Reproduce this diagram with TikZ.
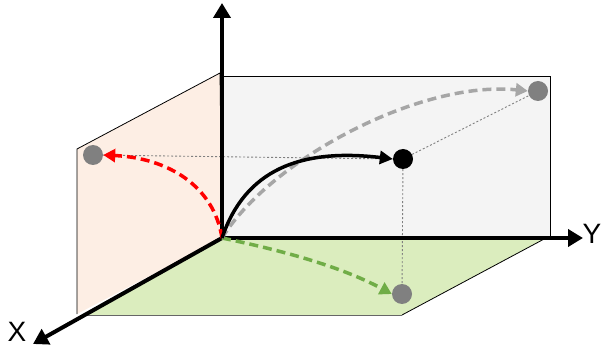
\documentclass[tikz,border=0pt]{standalone}
\usepackage{fontspec}
\setmainfont{Liberation Sans}
\usetikzlibrary{arrows.meta}
\definecolor{backfill}{HTML}{F4F4F4}
\definecolor{sidefill}{HTML}{FDEEE4}
\definecolor{floorfill}{HTML}{DBEDBE}
\definecolor{dotgray}{HTML}{808080}
\definecolor{dashgray}{HTML}{A6A6A6}
\definecolor{dashgreen}{HTML}{70AD47}
\definecolor{dashred}{HTML}{FF0000}
\tikzset{
  axisline/.style={line width=4pt,-{Triangle[length=15pt,width=17pt]}},
  guideline/.style={dotgray,line width=0.9pt,dash pattern=on 2pt off 2pt},
  pathdash/.style={line width=3.5pt,dash pattern=on 9pt off 5pt,-{Triangle[length=12pt,width=13pt]}},
  dotnode/.style={circle,fill=dotgray,inner sep=0pt,minimum size=20pt},
  planeedge/.style={line width=0.8pt},
  axislabel/.style={font=\fontsize{28}{30}\selectfont,inner sep=0pt}
}
\begin{document}
\begin{tikzpicture}[x=1pt,y=-1pt]
\useasboundingbox (0,0) rectangle (602,347);
% planes
\fill[floorfill] (222,238) -- (546,238) -- (402,315) -- (82,315) -- cycle;
\draw[planeedge,black!60] (82,315) -- (402,315);
\draw[planeedge] (402,315) -- (546,238);
\filldraw[fill=backfill,draw=black,planeedge] (222,238) -- (222,76) -- (550,76) -- (550,238);
\filldraw[fill=sidefill,draw=black,planeedge] (222,238) -- (220,73) -- (77,149) -- (77,314);
% dots
\node[dotnode] (L) at (93,155) {};
\node[dotnode] (T) at (538,91) {};
\node[dotnode] (B) at (402,294) {};
\node[circle,fill=black,inner sep=0pt,minimum size=20pt] (P) at (403,159) {};
\coordinate (O) at (222,238);
% guide lines
\draw[guideline] (L) -- (P.west);
\draw[guideline] (P) -- (T);
\draw[guideline] (P) -- (B);
% axes
\coordinate (Zend) at (222,3);
\coordinate (Yend) at (583,238);
\coordinate (Xend) at (33,344);
\draw[axisline] (222,240) -- (Zend);
\draw[axisline] (220,238) -- (Yend);
\draw[axisline] (O) -- (Xend);
\node[axislabel] (XL) at (17,332) {X};
\node[axislabel] (YL) at (592,234) {Y};
% curves
\draw[pathdash,dashgreen] (O) .. controls (280,250) and (340,266) .. (B.west);
\draw[pathdash,dashgray] (O) .. controls (270,160) and (420,80) .. (T.west);
\draw[pathdash,dashred] (O) .. controls (214,186) and (168,158) .. (L.east);
\draw[line width=3.5pt,-{Triangle[length=13pt,width=13pt]}] (O) .. controls (245,170) and (300,148) .. (P.west);
\end{tikzpicture}
\end{document}
